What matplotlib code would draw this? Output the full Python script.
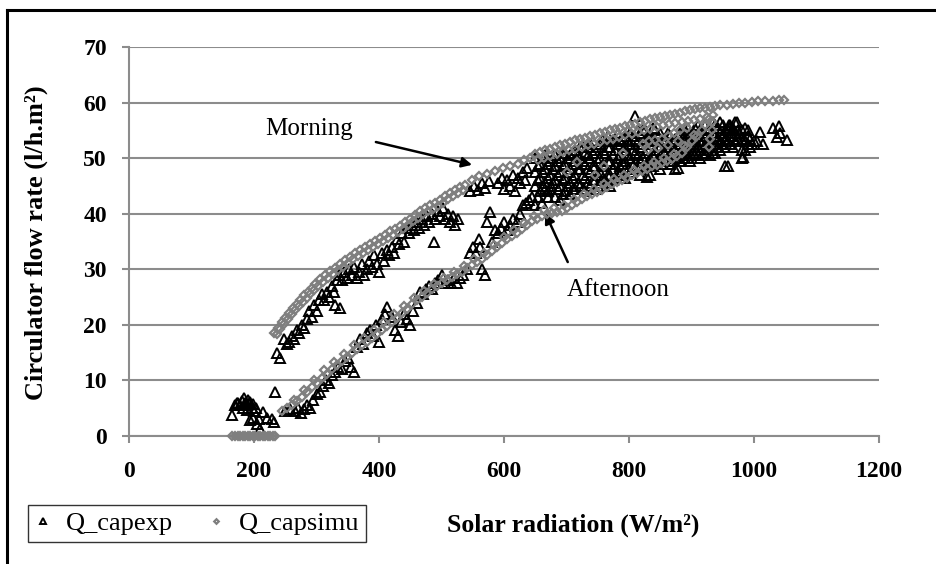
import numpy as np
import matplotlib.pyplot as plt
from matplotlib.lines import Line2D

plt.rcParams['font.family'] = ['Liberation Serif', 'DejaVu Serif']

# Q_capexp : measured circulator flow (l/h.m2) vs solar radiation (W/m2)
exp_dawn = [(165, 3.8), (170, 5.5), (172, 5.9), (174, 6.0), (178, 5.5), (180, 6.3), (182, 5.0),
            (184, 6.8), (186, 6.0), (188, 5.5), (189, 4.7), (190, 6.5), (192, 5.8), (194, 6.2),
            (194, 2.9), (196, 5.0), (198, 5.7), (199, 3.2), (200, 4.5), (203, 5.0), (205, 2.2),
            (208, 3.0), (210, 1.2), (214, 4.3), (220, 3.2), (228, 3.0), (232, 2.5), (234, 8.0)]

exp_morning = [(236, 15), (242, 14), (248, 17.5), (252, 16.5), (256, 17), (260, 18), (264, 17.5),
               (268, 19), (272, 18.5), (276, 20), (280, 19.5), (284, 21), (288, 22.5), (292, 21.5),
               (296, 23.5), (300, 22.5), (304, 24.5), (308, 25.5), (312, 24.5), (316, 26), (320, 25),
               (324, 27), (328, 26), (332, 28), (330, 23.5), (338, 23), (336, 29), (340, 28),
               (344, 29.5), (348, 28.5), (352, 30), (356, 29), (360, 30.5), (364, 28.5), (368, 29.5),
               (372, 31), (376, 29), (380, 30), (384, 31.5), (388, 30.5), (392, 32.5), (396, 31),
               (400, 29.5), (404, 33), (408, 31.5), (412, 33.5), (416, 32.5), (420, 34), (424, 33),
               (428, 35.5), (432, 34.5), (436, 36.5), (440, 35), (444, 37.5), (448, 36.5), (452, 38),
               (456, 37), (460, 38.5), (464, 37.5), (468, 39), (472, 38), (476, 39.5), (480, 38.5),
               (484, 40), (488, 35), (490, 39), (494, 40.5), (498, 39.5), (502, 41), (506, 39),
               (510, 40), (514, 38.5), (518, 39.5), (522, 38), (526, 39)]

exp_late_morning = [(546, 44), (552, 45), (558, 44.3), (564, 45.5), (570, 44.6), (576, 45.8),
                    (590, 45.5), (596, 46.5), (600, 44.5), (604, 46), (610, 45), (614, 47),
                    (618, 44), (622, 46.5), (626, 45.5), (630, 47.5), (634, 46), (636, 48.3)]

exp_afternoon = [(250, 4.5), (258, 4.8), (265, 4.5), (270, 5), (275, 4.2), (280, 4.8), (285, 5.5),
                 (290, 5), (295, 6.5), (300, 7.5), (305, 8), (310, 9), (315, 10), (320, 9.5),
                 (325, 11), (330, 11.5), (335, 12.5), (340, 12), (345, 13.5), (350, 14), (355, 12.5),
                 (360, 11.5), (365, 16), (370, 17.5), (375, 16.5), (380, 18.5), (385, 19), (390, 18),
                 (395, 20), (400, 17), (405, 21), (410, 22), (413, 23.3), (420, 21.5), (425, 19),
                 (430, 18), (435, 20.5), (440, 22), (445, 21), (450, 20), (455, 22.5), (460, 24),
                 (465, 26), (470, 25.5), (475, 26.5), (480, 27), (485, 26.5), (490, 27.5), (495, 28),
                 (500, 29), (505, 27.5), (510, 28), (515, 27.5), (520, 28.5), (525, 27.5), (530, 28.5),
                 (535, 29), (540, 30), (545, 33), (550, 34), (555, 33), (560, 35.5), (562, 34),
                 (565, 30), (570, 29), (573, 38.5), (578, 40.3), (580, 35), (585, 37), (590, 36.5),
                 (595, 37.5), (600, 38.5), (605, 37), (610, 38), (615, 39), (620, 38.5), (625, 40),
                 (630, 41.5), (635, 42), (640, 42.5), (645, 43), (650, 41.5), (655, 43), (660, 42),
                 (665, 44.5), (670, 43), (675, 45)]

# dense cloud around noon: (radiation, [flow values])
exp_noon = [(650, [45, 47.5, 50]), (658, [44, 46.5, 49]), (666, [45.5, 48, 50.5]),
            (674, [44.5, 47, 49.5]), (682, [43, 46, 48.5, 50.5]), (690, [42.5, 45, 47.5, 50]),
            (698, [44, 46.5, 49, 51]), (706, [43.5, 45.5, 48, 50.5]), (714, [44.5, 47, 49.5, 51.5]),
            (722, [45, 48, 50, 52]), (730, [44, 46.5, 49, 51]), (738, [45, 47.5, 50, 52.5]),
            (746, [44.5, 46, 48.5, 51.5]), (754, [45.5, 47.5, 50, 52.5]), (762, [46, 48.5, 51, 53]),
            (770, [45, 47, 49.5, 52]), (778, [46.5, 49, 51.5, 53.5]), (786, [47, 48.5, 50.5, 53]),
            (794, [46.5, 49.5, 52, 54]), (802, [47.5, 50, 52.5, 54.5]), (810, [48, 51, 53.5, 57.5]),
            (818, [47, 49.5, 52, 54.5]), (826, [48.5, 51, 53.5, 55]), (834, [47, 50, 52.5, 54]),
            (842, [49, 51.5, 53, 55]), (850, [48, 50.5, 52, 54.5]), (858, [49.5, 51, 53.5]),
            (866, [49, 50.5, 52.5, 54]), (874, [48, 50, 51.5, 53.5]), (882, [49.5, 51, 52.5, 54.5]),
            (890, [50, 51.5, 53, 55]), (898, [49.5, 51, 52.5, 54.5]), (906, [50.5, 52, 53.5, 55.5]),
            (914, [50, 51.5, 53, 55]), (922, [51, 52.5, 54, 56]), (930, [50.5, 52, 53.5, 55.5]),
            (938, [51, 52.5, 54, 56]), (946, [51.5, 53, 54.5, 56.5]), (954, [52, 53.5, 55, 48.5]),
            (962, [52.5, 54, 55.5, 56]), (970, [53, 54.5, 56.5]), (980, [50, 51.5, 53.5, 55]),
            (990, [52.5, 54]), (1000, [53])]

exp_noon_b = [(654, [46, 48.5]), (662, [45, 47.5, 50]), (670, [44, 46.5, 49]), (678, [45.5, 48, 50]),
              (686, [44.5, 47, 49.5]), (694, [43.5, 46, 48.5, 51]), (702, [45, 47.5, 50]),
              (710, [44.5, 46.5, 49, 51]), (718, [45.5, 48, 50.5]), (726, [44.5, 47, 49.5, 52]),
              (734, [45.5, 48, 50.5, 52]), (742, [46, 48.5, 51, 53]), (750, [45, 47, 49.5, 52]),
              (758, [46.5, 49, 51.5, 53.5]), (766, [47, 49.5, 52, 54]), (774, [46, 48, 50.5, 53]),
              (782, [47.5, 50, 52.5, 54.5]), (790, [47, 49, 51.5, 53.5]), (798, [48, 50.5, 53, 55]),
              (806, [48.5, 51.5, 54]), (814, [48, 50.5, 53, 55]), (822, [48, 50, 52.5, 55]),
              (830, [49, 51.5, 54]), (838, [48.5, 50.5, 53, 55.5]), (846, [49.5, 52, 54]),
              (854, [49, 51.5, 53]), (862, [50, 52, 54.5]), (870, [49.5, 51, 53]), (878, [50, 52, 54]),
              (886, [50.5, 52, 53.5]), (894, [50, 51.5, 53.5, 55.5]), (902, [51, 52.5, 54]),
              (910, [50.5, 52, 54, 56]), (918, [51, 53, 54.5]), (926, [51.5, 53, 55]),
              (934, [51, 52.5, 54.5, 56.5]), (942, [52, 53.5, 55.5]), (950, [52.5, 54, 56]),
              (958, [53, 55]), (966, [52, 54, 55.5]), (974, [53.5, 55]), (986, [53, 55.5]),
              (994, [52, 53.5])]

exp_peak = [(960, 56), (966, 55), (972, 56.5), (976, 54.5), (984, 53.5), (990, 55), (996, 52.5),
            (1004, 53), (1010, 54.7), (1014, 52.5), (1030, 55.5), (1036, 53.8), (1040, 55.8),
            (1042, 54.5), (1052, 53.2), (958, 48.5), (982, 50.2), (986, 51.5), (878, 48.2),
            (829, 46.6), (765, 45.5)]

# Q_capsimu : simulated flow
sim_zero = [(165, 0), (170, 0), (174, 0), (178, 0), (182, 0), (186, 0), (190, 0), (194, 0),
            (198, 0), (202, 0), (206, 0), (210, 0), (214, 0), (218, 0), (222, 0), (226, 0),
            (230, 0), (234, 0)]

sim_morning = [(232, 18.5), (238, 19.5), (244, 20.5), (250, 21.3), (256, 22.2), (262, 23),
               (268, 23.8), (274, 24.5), (280, 25.3), (286, 26), (292, 26.7), (298, 27.4),
               (306, 28.2), (314, 29), (322, 29.7), (330, 30.3), (338, 30.9), (346, 31.6),
               (354, 32.3), (362, 32.9), (370, 33.5), (378, 34.1), (386, 34.6), (394, 35.1),
               (402, 35.6), (410, 36.2), (418, 36.8), (426, 37.3), (434, 37.8), (442, 38.5),
               (450, 39.1), (458, 39.8), (466, 40.4), (474, 41), (482, 41.5), (490, 42),
               (498, 42.5), (506, 43.1), (514, 43.7), (522, 44.2), (530, 44.8), (538, 45.2),
               (236, 18.4), (242, 19.3), (248, 20.2), (254, 21.1), (260, 21.9), (266, 22.7),
               (272, 23.4), (278, 24.2), (284, 24.9), (290, 25.6), (296, 26.3), (302, 27),
               (310, 27.8), (318, 28.5), (326, 29.2), (334, 29.8), (342, 30.4), (350, 31.1),
               (358, 31.8), (366, 32.4), (374, 33), (382, 33.5), (390, 34), (398, 34.5),
               (406, 35.1), (414, 35.7), (422, 36.2), (430, 36.7), (438, 37.3), (446, 38),
               (454, 38.6), (462, 39.3), (470, 39.9), (478, 40.4), (486, 40.9), (494, 41.4),
               (502, 42), (510, 42.6), (518, 43.1), (526, 43.7), (534, 44.2)]

sim_noon = [(548, 46), (560, 46.8), (572, 47.2), (586, 47.6), (598, 48.2), (610, 48.6), (622, 49),
            (632, 49.6), (642, 50), (650, 50.8), (658, 51.1), (666, 51.4), (674, 51.7), (682, 52),
            (690, 52.3), (698, 52.6), (706, 52.9), (714, 53.2), (722, 53.5), (730, 53.7),
            (738, 54), (746, 54.2), (754, 54.5), (762, 54.7), (770, 55), (778, 55.2), (786, 55.5),
            (794, 55.7), (802, 56), (810, 56.2), (818, 56.5), (826, 56.7), (834, 57), (842, 57.2),
            (850, 57.4), (858, 57.6), (866, 57.8), (874, 58), (882, 58.2), (890, 58.4), (898, 58.6),
            (906, 58.8), (914, 59), (922, 59.1), (930, 59.2), (938, 59.4), (946, 59.5), (956, 59.6),
            (966, 59.8), (976, 59.9), (986, 60), (996, 60.1), (1006, 60.2), (1018, 60.2),
            (1030, 60.3), (1040, 60.4), (1048, 60.5),
            (654, 49.6), (664, 50), (674, 50.3), (684, 50.7), (694, 51.1), (704, 51.4), (714, 51.7),
            (724, 52), (734, 52.3), (744, 52.6), (754, 52.9), (764, 53.2), (774, 53.5), (784, 53.8),
            (794, 54.1), (804, 54.4), (814, 54.7), (824, 55), (834, 55.3), (844, 55.6), (854, 55.9),
            (864, 56.1), (874, 56.3), (884, 56.5), (894, 56.7), (904, 56.9), (914, 57.1), (924, 57.4)]

sim_afternoon = [(244, 4.5), (252, 5), (260, 5.6), (268, 6.3), (276, 7.1), (284, 8), (292, 8.9),
                 (300, 9.6), (308, 10.4), (316, 11.2), (324, 12), (332, 12.8), (340, 13.5),
                 (348, 14.2), (356, 14.9), (364, 15.6), (372, 16.3), (380, 17), (388, 17.7),
                 (396, 18.4), (404, 19.1), (412, 19.8), (420, 20.5), (428, 21.3), (436, 22.1),
                 (444, 22.9), (452, 23.7), (460, 24.4), (468, 25.1), (476, 25.8), (484, 26.4),
                 (492, 27), (500, 27.6), (508, 28.1), (516, 28.6), (524, 29.1), (532, 29.6),
                 (540, 30.2), (548, 30.8), (556, 31.3), (564, 31.9), (572, 32.6), (580, 33.3),
                 (588, 34), (596, 34.7), (604, 35.4), (612, 36), (620, 36.6), (628, 37.3), (636, 38),
                 (644, 38.6), (652, 39.1), (660, 39.6), (668, 40), (676, 40.2), (684, 40.3),
                 (692, 40.5), (700, 41), (708, 41.6), (716, 42.1), (724, 42.6), (732, 43.1),
                 (740, 43.5), (748, 43.9), (756, 44.3), (764, 44.8), (772, 45.3), (780, 45.7),
                 (788, 46.1), (796, 46.5), (804, 46.9), (812, 47.3), (820, 47.7), (828, 48.1),
                 (836, 48.5), (844, 48.8), (852, 49.2), (860, 49.5), (868, 49.9), (876, 50.3),
                 (884, 51), (892, 52), (900, 53), (908, 54), (916, 55), (922, 56), (928, 57),
                 (934, 57.8),
                 (264, 6.5), (280, 8.3), (296, 10), (312, 11.8), (328, 13.4), (344, 14.8),
                 (360, 16.3), (376, 17.7), (392, 19.1), (408, 20.5), (424, 21.9), (440, 23.4),
                 (456, 24.8), (472, 26.1), (488, 27.3), (504, 28.5), (520, 29.5), (536, 30.6),
                 (552, 31.8), (568, 33), (584, 34.4), (600, 35.8), (616, 37), (632, 38.3),
                 (648, 39.6), (664, 40.6), (680, 41), (696, 41.5), (712, 42.6), (728, 43.6),
                 (744, 44.5), (760, 45.3), (776, 46.2), (792, 47), (808, 47.8), (824, 48.6),
                 (840, 49.3), (856, 50), (872, 50.8), (888, 52.2), (904, 54.2)]

sim_extra = [(928, 52), (930, 53.5), (932, 55), (933, 56.5), (822, 52.5), (832, 53), (842, 53.2),
             (852, 53.5), (862, 54), (872, 54.5), (882, 55), (892, 55.5), (830, 51.5), (846, 51.8),
             (862, 52.3), (878, 53), (717, 49.3), (790, 51), (760, 48.5), (700, 47.5), (745, 47)]


def flatten_columns(cols):
    return [(x, y) for x, ys in cols for y in ys]


exp_pts = np.array(exp_dawn + exp_morning + exp_late_morning + exp_afternoon
                   + flatten_columns(exp_noon) + flatten_columns(exp_noon_b) + exp_peak)
sim_pts = np.array(sim_zero + sim_morning + sim_noon + sim_afternoon + sim_extra)

fig = plt.figure(figsize=(9.36, 5.64), dpi=100)
ax = fig.add_axes([129 / 936, 128 / 564, 750 / 936, 389 / 564])

grid_grey = '#8c8c8c'
ax.plot(exp_pts[:, 0], exp_pts[:, 1], ls='none', marker='^', ms=7, mfc='none',
        mec='black', mew=1.4, label='Q_capexp', clip_on=False, zorder=3)
ax.plot(sim_pts[:, 0], sim_pts[:, 1], ls='none', marker='D', ms=4.2, mfc='none',
        mec='#7f7f7f', mew=1.6, label='Q_capsimu', clip_on=False, zorder=4)

ax.set_xlim(0, 1200)
ax.set_ylim(0, 70)
ax.set_xticks(range(0, 1201, 200))
ax.set_yticks(range(0, 71, 10))
ax.grid(axis='y', color=grid_grey, lw=1.5)
ax.set_axisbelow(True)
for side in ['top', 'right']:
    ax.spines[side].set_visible(False)
for side in ['left', 'bottom']:
    ax.spines[side].set_color(grid_grey)
    ax.spines[side].set_linewidth(1.5)
ax.tick_params(direction='out', length=5, width=1.5, color=grid_grey, labelsize=17)
ax.tick_params(axis='y', pad=11)
ax.tick_params(axis='x', pad=13)
for lab in ax.get_xticklabels() + ax.get_yticklabels():
    lab.set_fontweight('bold')

ax.set_xlabel('Solar radiation (W/m²)', fontsize=18.5, fontweight='bold', va='center')
ax.xaxis.set_label_coords(0.592, -0.229)
ax.set_ylabel('Circulator flow rate (l/h.m²)', fontsize=19, fontweight='bold', va='center')
ax.yaxis.set_label_coords(-0.123, 0.496)

# Morning / Afternoon annotations
ax.text(288, 55.3, 'Morning', ha='center', va='center', fontsize=18)
ax.annotate('', xy=(549, 48.8), xytext=(395, 52.9),
            arrowprops=dict(arrowstyle='-|>', color='black', lw=1.8, mutation_scale=15,
                            shrinkA=0, shrinkB=0))
ax.text(782, 26.3, 'Afternoon', ha='center', va='center', fontsize=18)
ax.annotate('', xy=(666, 40.1), xytext=(702, 31.3),
            arrowprops=dict(arrowstyle='-|>', color='black', lw=1.8, mutation_scale=15,
                            shrinkA=0, shrinkB=0))

leg = fig.legend(loc='lower left', bbox_to_anchor=(28 / 936, 22 / 564), ncol=2,
                 frameon=True, fancybox=False, edgecolor='black', fontsize=19,
                 markerscale=0.55, handlelength=0.6, handletextpad=0.6,
                 columnspacing=1.3, borderpad=0.25, borderaxespad=0)
leg.get_frame().set_linewidth(1.0)

# outer frame (left and top edges)
fig.add_artist(Line2D([7 / 936, 7 / 936], [0, 554 / 564], color='black', lw=2.2,
                      transform=fig.transFigure))
fig.add_artist(Line2D([7 / 936, 1], [554 / 564, 554 / 564], color='black', lw=2.2,
                      transform=fig.transFigure))

fig.savefig('out.png', dpi=100)
